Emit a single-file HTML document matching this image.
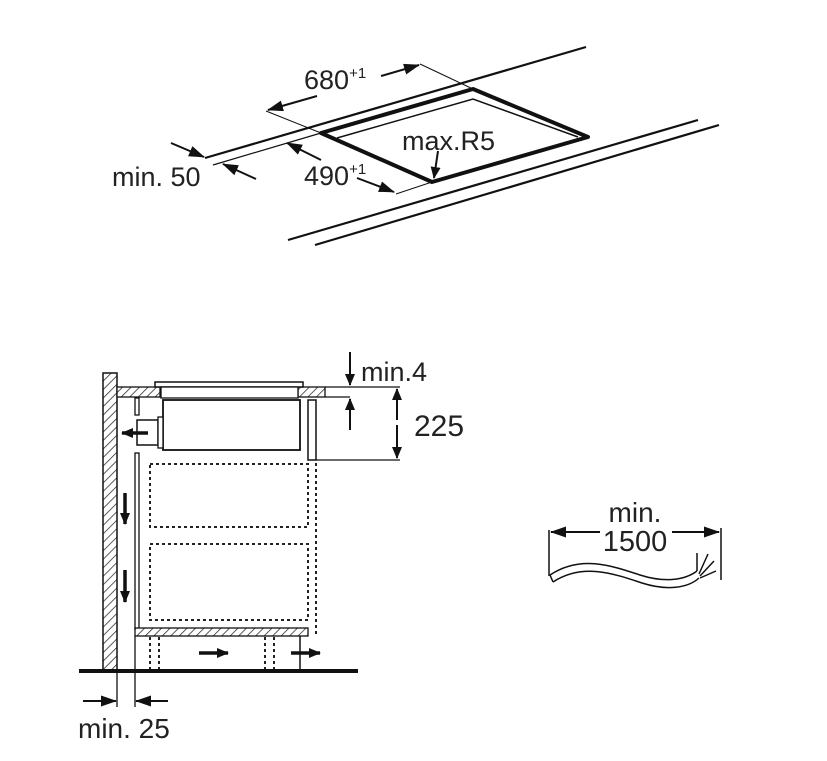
<!DOCTYPE html>
<html><head><meta charset="utf-8"><style>
html,body{margin:0;padding:0;background:#fff;}
svg{display:block;}
text{font-family:"Liberation Sans",sans-serif;fill:#222;}
</style></head><body>
<svg width="827" height="761" viewBox="0 0 827 761" xmlns="http://www.w3.org/2000/svg">
<defs>
<marker id="ah" markerWidth="12" markerHeight="10" refX="11" refY="5" orient="auto" markerUnits="userSpaceOnUse">
<path d="M0,0 L12,5 L0,10 z" fill="#111"/></marker>
<marker id="ah2" markerWidth="16" markerHeight="11" refX="15" refY="5.5" orient="auto" markerUnits="userSpaceOnUse">
<path d="M0,0 L16,5.5 L0,11 z" fill="#111"/></marker>
<pattern id="hatch" width="6" height="6" patternUnits="userSpaceOnUse" patternTransform="rotate(45)">
<rect width="6" height="6" fill="#fff"/><line x1="0" y1="0" x2="0" y2="6" stroke="#333" stroke-width="1.6"/></pattern>
</defs>

<!-- TOP ISO VIEW -->
<g stroke="#111" fill="none">
<line x1="205" y1="158" x2="586" y2="47" stroke-width="2.2"/>
<line x1="213" y1="165" x2="321" y2="133" stroke-width="1.2"/>
<polygon points="321,133 473,89 588,137 432,182" stroke-width="4" stroke-linejoin="round"/>
<polyline points="337,138 473,99 578,137" stroke-width="1.5"/>
<line x1="288" y1="240" x2="698" y2="120" stroke-width="2.2"/>
<line x1="315" y1="245" x2="719" y2="125" stroke-width="2.2"/>
<line x1="266" y1="111" x2="321" y2="133" stroke-width="1"/>
<line x1="420" y1="64" x2="473" y2="89" stroke-width="1"/>
<line x1="317" y1="96" x2="268" y2="110" stroke-width="2" marker-end="url(#ah2)"/>
<line x1="381" y1="76" x2="419" y2="65" stroke-width="2" marker-end="url(#ah2)"/>
<line x1="432" y1="182" x2="396" y2="194" stroke-width="1"/>
<line x1="357" y1="178" x2="394" y2="192" stroke-width="2" marker-end="url(#ah2)"/>
<line x1="321" y1="160" x2="287" y2="143" stroke-width="2" marker-end="url(#ah2)"/>
<line x1="171" y1="143" x2="204" y2="157" stroke-width="2" marker-end="url(#ah2)"/>
<line x1="256" y1="179" x2="223" y2="164" stroke-width="2" marker-end="url(#ah2)"/>
<line x1="438" y1="151" x2="434" y2="178" stroke-width="2" marker-end="url(#ah)"/>
</g>
<text x="304" y="89" font-size="27">680<tspan font-size="15" dy="-11">+1</tspan></text>
<text x="304" y="185" font-size="27">490<tspan font-size="15" dy="-11">+1</tspan></text>
<text x="112" y="186" font-size="27">min. 50</text>
<text x="402" y="150" font-size="27">max.R5</text>

<!-- SIDE SECTION -->
<rect x="103" y="373" width="14" height="297" fill="url(#hatch)" stroke="#111" stroke-width="1.5"/>
<rect x="117" y="387" width="43" height="10" fill="url(#hatch)" stroke="#111" stroke-width="1.3"/>
<rect x="298" y="387" width="27" height="10" fill="url(#hatch)" stroke="#111" stroke-width="1.3"/>
<rect x="155" y="382" width="148" height="5" fill="#fff" stroke="#111" stroke-width="1.5"/>
<rect x="161" y="387" width="137" height="11" fill="#fff" stroke="#111" stroke-width="1.3"/>
<rect x="163" y="400" width="137" height="50" fill="#fff" stroke="#111" stroke-width="1.8"/>
<rect x="137" y="420" width="21" height="25" fill="#fff" stroke="#111" stroke-width="1.5"/>
<rect x="158" y="417" width="5" height="31" fill="#fff" stroke="#111" stroke-width="1.3"/>
<rect x="135" y="398" width="4" height="17" fill="#fff" stroke="#111" stroke-width="1.3"/>
<rect x="308" y="400" width="8" height="60" fill="#fff" stroke="#111" stroke-width="1.5"/>
<rect x="135" y="453" width="4" height="177" fill="#fff" stroke="#111" stroke-width="1.3"/>
<rect x="135" y="628" width="173" height="8" fill="url(#hatch)" stroke="#111" stroke-width="1.3"/>
<g stroke="#222" stroke-width="2" stroke-dasharray="3,3" fill="none">
<rect x="150" y="464" width="158" height="63"/>
<rect x="150" y="544" width="158" height="76"/>
<line x1="316" y1="463" x2="316" y2="636"/>
<line x1="150" y1="637" x2="150" y2="670"/><line x1="159" y1="637" x2="159" y2="670"/>
<line x1="265" y1="637" x2="265" y2="670"/><line x1="274" y1="637" x2="274" y2="670"/>
</g>
<line x1="300" y1="636" x2="300" y2="670" stroke="#111" stroke-width="1.5"/>
<line x1="79" y1="671" x2="358" y2="671" stroke="#111" stroke-width="4"/>
<g stroke="#111" fill="none">
<line x1="148" y1="433" x2="122" y2="433" stroke-width="3.5" marker-end="url(#ah)"/>
<line x1="125" y1="493" x2="125" y2="524" stroke-width="3.5" marker-end="url(#ah)"/>
<line x1="125" y1="570" x2="125" y2="602" stroke-width="3.5" marker-end="url(#ah)"/>
<line x1="199" y1="653" x2="228" y2="653" stroke-width="3.5" marker-end="url(#ah)"/>
<line x1="291" y1="653" x2="320" y2="653" stroke-width="3.5" marker-end="url(#ah)"/>
</g>
<g stroke="#111" fill="none" stroke-width="1.3">
<line x1="325" y1="387" x2="400" y2="387"/>
<line x1="325" y1="397" x2="350" y2="397"/>
<line x1="316" y1="460" x2="400" y2="460"/>
<line x1="350" y1="352" x2="350" y2="385" stroke-width="2" marker-end="url(#ah)"/>
<line x1="350" y1="430" x2="350" y2="399" stroke-width="2" marker-end="url(#ah)"/>
<line x1="397" y1="420" x2="397" y2="389" stroke-width="2" marker-end="url(#ah)"/>
<line x1="397" y1="425" x2="397" y2="458" stroke-width="2" marker-end="url(#ah)"/>
<line x1="117" y1="672" x2="117" y2="707"/>
<line x1="135" y1="636" x2="135" y2="707"/>
<line x1="83" y1="701" x2="116" y2="701" stroke-width="2" marker-end="url(#ah2)"/>
<line x1="168" y1="701" x2="136" y2="701" stroke-width="2" marker-end="url(#ah2)"/>
</g>
<text x="361" y="381" font-size="27">min.4</text>
<text x="414" y="436" font-size="30">225</text>
<text x="78" y="738" font-size="28">min. 25</text>

<!-- CABLE -->
<g stroke="#111" fill="none" stroke-width="1.5">
<line x1="549" y1="530" x2="549" y2="576"/>
<line x1="721" y1="528" x2="721" y2="580"/>
<line x1="600" y1="532" x2="551" y2="532" stroke-width="2" marker-end="url(#ah2)"/>
<line x1="672" y1="532" x2="719" y2="532" stroke-width="2" marker-end="url(#ah2)"/>
<path d="M550,575 C580,555 610,565 640,575 C665,583 685,580 697,571"/>
<path d="M553,582 C582,563 612,573 642,583 C667,591 688,588 699,578"/>
<line x1="550" y1="575" x2="553" y2="582"/>
<path d="M697,571 L697,553 M699,574 L708,554 M700,576 L714,561 M700,578 L716,571"/>
</g>
<text x="635" y="522" font-size="28" text-anchor="middle">min.</text>
<text x="635" y="551" font-size="29" text-anchor="middle">1500</text>
</svg>
</body></html>
